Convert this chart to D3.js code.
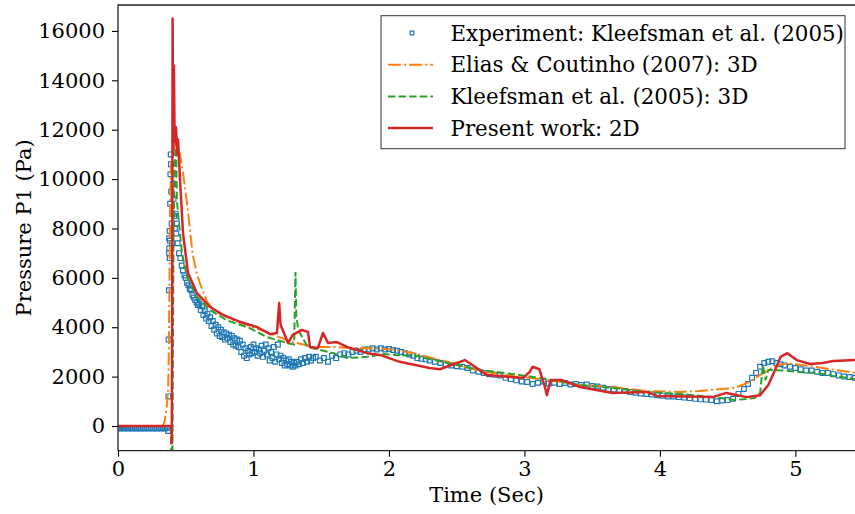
<!DOCTYPE html>
<html>
<head>
<meta charset="utf-8">
<script src="https://cdn.jsdelivr.net/npm/d3@7"></script>
<style>
  body { margin: 0; background: #fff; }
  svg text { font-family: "DejaVu Serif", serif; fill: #000; }
</style>
</head>
<body>
<svg id="chart" width="855" height="514"></svg>
<script>
// values, each point is [time (s), pressure (Pa)]
let experiment = [
  [0.000,-80],[0.015,-100],[0.030,-80],[0.045,-100],[0.060,-80],[0.075,-100],[0.090,-80],
  [0.105,-100],[0.120,-80],[0.135,-100],[0.150,-80],[0.165,-100],[0.180,-80],[0.195,-100],
  [0.210,-80],[0.225,-100],[0.240,-80],[0.255,-100],[0.270,-80],[0.285,-100],[0.300,-80],
  [0.315,-100],[0.330,-80],[0.345,-100],[0.360,-80],[0.370,-200],
  [0.372,1200],[0.374,3500],[0.376,5500],[0.377,7000],[0.378,7600],[0.379,7200],[0.381,7900],
  [0.382,6800],[0.383,7500],[0.385,9000],[0.387,10200],[0.389,11000],[0.391,10600],[0.393,9500],
  [0.396,8200],[0.399,7400],[0.402,8600],[0.406,9800],[0.41,9200],[0.415,8500],[0.42,8000],
  [0.425,8600],[0.43,7800],[0.435,8200],[0.44,7400],[0.45,7000],[0.46,6800],[0.47,6500],
  [0.48,6300],[0.49,6100],[0.50,6000],[0.51,5800],[0.52,5700],[0.53,5550],[0.54,5500],
  [0.55,5300],[0.56,5200],[0.57,5100],[0.58,5000],[0.59,4900],
  [0.600,4950],[0.610,4700],[0.620,4850],[0.630,4500],[0.640,4650],[0.650,4350],[0.660,4550],
  [0.670,4250],[0.680,4400],[0.690,4050],[0.700,4250],[0.710,3900],[0.720,4100],[0.730,3750],
  [0.740,4000],[0.750,3650],[0.760,3900],[0.770,3600],[0.780,3800],[0.790,3500],[0.800,3750],
  [0.810,3550],[0.820,3700],[0.830,3400],[0.840,3650],[0.850,3300],[0.860,3550],[0.870,3250],
  [0.880,3500],[0.890,3200],[0.900,3450],[0.910,3000],[0.920,3300],[0.930,2850],[0.940,3150],
  [0.950,2750],[0.960,3050],[0.970,2900],[0.980,3200],[0.990,2950],[1.000,3300],[1.010,3000],
  [1.020,3150],[1.030,2850],[1.040,3100],[1.050,2950],[1.060,3250],[1.070,2800],[1.080,3050],
  [1.090,3300],[1.100,2900],[1.110,3150],[1.120,2650],[1.130,3000],[1.140,2750],[1.150,3200],
  [1.160,2600],[1.170,2900],[1.180,3300],[1.190,2700],[1.200,2850],[1.210,2550],[1.220,2750],
  [1.230,2450],[1.240,2650],[1.250,2500],[1.260,2700],[1.270,2450],[1.280,2600],[1.290,2400],
  [1.300,2550],[1.310,2450],[1.320,2600],[1.335,2500],[1.350,2700],[1.365,2550],[1.380,2750],
  [1.395,2600],[1.410,2800],[1.425,2650],[1.440,2750],
  [1.46,2800],[1.49,2650],[1.52,2750],[1.55,2600],
  [1.58,2850],[1.61,2750],[1.64,2900],[1.67,2950],[1.70,2900],[1.73,3000],[1.76,3050],
  [1.79,3000],[1.82,3100],[1.85,3100],[1.88,3150],[1.91,3100],[1.94,3150],[1.97,3100],
  [2.00,3120],[2.03,3080],[2.06,3050],[2.09,3000],[2.12,2950],[2.15,2900],[2.18,2850],
  [2.21,2750],[2.24,2720],[2.27,2700],[2.30,2650],[2.34,2600],[2.38,2550],[2.42,2500],
  [2.46,2450],[2.50,2420],[2.54,2400],[2.58,2350],[2.62,2250],[2.66,2200],[2.70,2150],
  [2.74,2100],[2.78,2080],[2.82,2050],[2.86,1950],[2.90,1900],[2.94,1850],[2.98,1800],
  [3.02,1780],[3.06,1700],[3.10,1750],[3.14,1800],[3.18,1720],[3.22,1750],[3.26,1700],
  [3.30,1740],[3.34,1680],[3.38,1700],[3.42,1660],[3.46,1680],[3.50,1620],[3.54,1600],
  [3.58,1550],[3.62,1500],[3.66,1480],[3.70,1450],[3.74,1420],[3.78,1380],[3.82,1350],
  [3.86,1320],[3.90,1300],[3.94,1280],[3.98,1250],[4.02,1230],[4.06,1200],[4.10,1200],
  [4.14,1170],[4.18,1150],[4.22,1130],[4.26,1100],[4.30,1080],[4.34,1070],[4.38,1050],
  [4.42,1000],[4.46,1030],[4.50,1050],[4.54,1100],[4.58,1300],[4.62,1500],[4.65,1700],
  [4.68,1950],[4.71,2150],[4.74,2400],[4.77,2550],[4.80,2600],[4.83,2620],[4.86,2550],
  [4.89,2500],[4.92,2450],[4.96,2400],[5.00,2350],[5.04,2300],[5.08,2250],[5.12,2250],
  [5.16,2200],[5.20,2150],[5.24,2150],[5.28,2100],[5.32,2050],[5.36,2000],[5.40,1980],[5.44,1950]
];

let eliasCoutinho = [
  [0,0],[0.33,0],[0.345,200],[0.36,800],[0.37,1500],[0.375,3000],[0.38,6000],[0.385,9000],
  [0.39,10500],[0.40,11000],[0.41,11200],[0.43,11500],[0.44,11300],[0.457,11000],[0.48,10250],
  [0.51,9000],[0.53,8000],[0.55,7000],[0.58,6200],[0.61,5700],[0.66,5000],[0.73,4600],
  [0.85,4300],[0.97,4050],[1.10,3800],[1.19,3600],[1.29,3400],[1.44,3200],[1.59,3200],
  [1.74,3150],[1.88,3150],[2.03,3100],[2.18,2950],[2.43,2600],[2.67,2230],[2.92,2020],
  [3.17,1860],[3.41,1660],[3.66,1580],[3.90,1420],[4.15,1380],[4.29,1420],[4.45,1500],
  [4.52,1520],[4.57,1580],[4.66,1780],[4.74,2070],[4.84,2400],[4.94,2550],[5.03,2480],
  [5.20,2350],[5.44,2150]
];

let kleefsman3D = [
  [0,0],[0.39,0],[0.393,-950],[0.402,-950],[0.405,3000],[0.41,8000],[0.418,10500],
  [0.428,11500],[0.435,9150],[0.443,8630],[0.472,7000],[0.51,6040],[0.583,5230],[0.65,4850],
  [0.679,4700],[0.80,4290],[0.97,3970],[1.10,3600],[1.25,3360],[1.30,3300],[1.31,6240],
  [1.316,4500],[1.33,3890],[1.40,3200],[1.49,3080],[1.59,2950],[1.69,2750],[1.84,2800],
  [1.96,2920],[2.06,2870],[2.18,2870],[2.43,2550],[2.67,2270],[2.92,2100],[3.17,1900],
  [3.41,1660],[3.65,1540],[3.90,1380],[4.15,1300],[4.39,1170],[4.55,1050],[4.70,1130],
  [4.74,1340],[4.76,2470],[4.78,1860],[4.80,2270],[4.91,2250],[5.03,2190],[5.16,2150],
  [5.28,2030],[5.44,1900]
];

let presentWork = [
  [0,0],[0.395,0],[0.397,-700],[0.400,5000],[0.403,16500],[0.407,11000],[0.413,14600],
  [0.418,11500],[0.428,12100],[0.438,11000],[0.443,11600],[0.458,9960],[0.48,7800],
  [0.517,6200],[0.583,5380],[0.679,4820],[0.775,4500],[0.90,4220],[1.026,4010],[1.122,3720],
  [1.173,3770],[1.19,4980],[1.20,4100],[1.21,3970],[1.255,3360],[1.29,3690],[1.358,3890],
  [1.402,3810],[1.417,3200],[1.476,3160],[1.513,3770],[1.55,3360],[1.616,3400],[1.69,3200],
  [1.838,2950],[1.934,2880],[2.08,2600],[2.30,2350],[2.376,2300],[2.45,2450],[2.56,2670],
  [2.635,2400],[2.72,2070],[2.99,1940],[3.04,2200],[3.06,2400],[3.11,2300],[3.15,1600],
  [3.166,1250],[3.19,1800],[3.21,1860],[3.277,1860],[3.41,1580],[3.65,1340],[3.90,1380],
  [3.98,1220],[4.39,1170],[4.49,1340],[4.64,1170],[4.74,1250],[4.80,1660],[4.85,2270],
  [4.89,2800],[4.94,2950],[5.01,2670],[5.11,2510],[5.20,2550],[5.28,2630],[5.44,2670]
];

let xTicks = [0, 1, 2, 3, 4, 5];
let yTicks = [0, 2000, 4000, 6000, 8000, 10000, 12000, 14000, 16000];
let legendLabels = [
  "Experiment: Kleefsman et al. (2005)",
  "Elias & Coutinho (2007): 3D",
  "Kleefsman et al. (2005): 3D",
  "Present work: 2D"
];

let fontSize = 21;
let legendFontSize = 21.4;
let margin = {top: 5, right: 0, bottom: 63.3, left: 118};
let width = 855 - margin.left - margin.right;
let height = 514 - margin.top - margin.bottom;

let svg = d3.select("#chart");
let g = svg.append("g").attr("transform", "translate(" + margin.left + "," + margin.top + ")");

let xScale = d3.scaleLinear().domain([0, 5.44]).range([0, width]);
let yScale = d3.scaleLinear().domain([-1000, 17050]).range([height, 0]);

g.append("clipPath").attr("id", "plotClip")
  .append("rect").attr("width", width).attr("height", height);

let plot = g.append("g").attr("clip-path", "url(#plotClip)");

let line = d3.line().x(d => xScale(d[0])).y(d => yScale(d[1]));

// experiment markers: small open squares
let marker = "M-2.4,-2.4H2.4V2.4H-2.4Z";

plot.append("g").selectAll("path").data(experiment).enter().append("path")
  .attr("d", marker)
  .attr("transform", d => "translate(" + xScale(d[0]) + "," + yScale(d[1]) + ")")
  .style("fill", "none")
  .style("stroke", "#1f77b4")
  .style("stroke-width", 1.2)
  .style("stroke-linejoin", "round");

plot.append("path").datum(eliasCoutinho)
  .attr("d", line)
  .style("fill", "none").style("stroke", "#ff7f0e").style("stroke-width", 2)
  .style("stroke-dasharray", "12.8,3.2,2,3.2");

plot.append("path").datum(kleefsman3D)
  .attr("d", line)
  .style("fill", "none").style("stroke", "#2ca02c").style("stroke-width", 2)
  .style("stroke-dasharray", "7.4,3.2");

plot.append("path").datum(presentWork)
  .attr("d", line)
  .style("fill", "none").style("stroke", "#d62728").style("stroke-width", 2.5)
  .style("stroke-linejoin", "round");

// axes
let xAxis = d3.axisBottom(xScale).tickValues(xTicks).tickFormat(d3.format("d"))
  .tickSize(6).tickPadding(4);
let yAxis = d3.axisLeft(yScale).tickValues(yTicks).tickFormat(d3.format("d"))
  .tickSize(6).tickPadding(7);

let gx = g.append("g").attr("transform", "translate(0," + height + ")").call(xAxis);
let gy = g.append("g").call(yAxis);
[gx, gy].forEach(a => {
  a.select(".domain").remove();
  a.selectAll("line").style("stroke", "#000").style("stroke-width", 1.1);
  a.selectAll("text").style("font-size", fontSize + "px").style("font-family", "DejaVu Serif");
});

// spines (right one falls outside the picture)
g.append("path")
  .attr("d", "M0," + height + "V0H" + (width + 2))
  .style("fill", "none").style("stroke", "#222").style("stroke-width", 1.3);
g.append("line").attr("x1", 0).attr("x2", width + 2).attr("y1", height).attr("y2", height)
  .style("stroke", "#222").style("stroke-width", 1.3);

// axis labels
svg.append("text")
  .attr("x", margin.left + width / 2).attr("y", 501.5)
  .attr("text-anchor", "middle").style("font-size", fontSize + "px")
  .text("Time (Sec)");

svg.append("text")
  .attr("transform", "translate(31," + (margin.top + height / 2) + ") rotate(-90)")
  .attr("text-anchor", "middle").style("font-size", fontSize + "px")
  .text("Pressure P1 (Pa)");

// legend
let legend = svg.append("g").attr("transform", "translate(381,15.7)");
legend.append("rect").attr("width", 464).attr("height", 133)
  .style("fill", "#fff").style("stroke", "#333").style("stroke-width", 1);

let rowY = i => 17.3 + i * 31.7;
let styles = [
  null,
  {color: "#ff7f0e", dash: "12.8,3.2,2,3.2", w: 2},
  {color: "#2ca02c", dash: "7.4,3.2", w: 2},
  {color: "#d62728", dash: null, w: 2.5}
];

legendLabels.forEach((label, i) => {
  let row = legend.append("g").attr("transform", "translate(0," + rowY(i) + ")");
  if (i === 0) {
    row.append("path").attr("d", "M-1.8,-1.8H1.8V1.8H-1.8Z").attr("transform", "translate(31,0)")
      .style("fill", "none").style("stroke", "#1f77b4").style("stroke-width", 1.2);
  } else {
    row.append("line").attr("x1", 7).attr("x2", 52).attr("y1", 0).attr("y2", 0)
      .style("stroke", styles[i].color).style("stroke-width", styles[i].w)
      .style("stroke-dasharray", styles[i].dash);
  }
  row.append("text").attr("x", 69.5).attr("dy", "0.35em")
    .style("font-size", legendFontSize + "px").text(label);
});
</script>
</body>
</html>
